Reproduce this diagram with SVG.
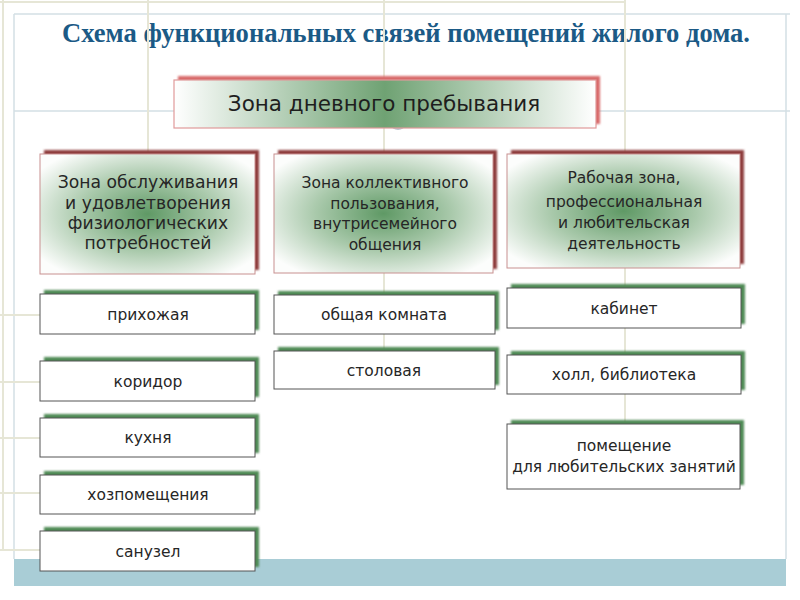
<svg xmlns="http://www.w3.org/2000/svg" width="800" height="600" viewBox="0 0 800 600">
<style>
.title{font-family:"Liberation Serif","Times New Roman",serif;font-weight:bold;font-size:28px;fill:#1b5a86}
.t{font-family:"DejaVu Sans",Verdana,sans-serif;font-size:15.5px;fill:#262626;text-anchor:middle}
.t1{font-family:"DejaVu Sans",Verdana,sans-serif;font-size:17.2px;fill:#262626;text-anchor:middle}
.tt{font-family:"DejaVu Sans",Verdana,sans-serif;font-size:21.5px;fill:#1e1e1e;text-anchor:middle}
.frame{stroke:#d3dfe4;stroke-width:1.5;fill:none}
.conn{stroke:#e6e6d6;stroke-width:2;fill:none}
.zone{fill:url(#zg);stroke:#c89090;stroke-width:1}
.zsh{fill:#8e3d3d;filter:url(#blur)}
.item{fill:#ffffff;stroke:#555555;stroke-width:1}
.ish{fill:#4f8a55;filter:url(#blur)}
</style>
<defs>
<filter id="blur" x="-10%" y="-30%" width="120%" height="160%"><feGaussianBlur stdDeviation="1.3"/></filter>
<radialGradient id="zg" cx="0.5" cy="0.5" r="0.62">
<stop offset="0" stop-color="#5f9965"/>
<stop offset="0.5" stop-color="#a9c9ab"/>
<stop offset="1" stop-color="#fcfdfc"/>
</radialGradient>
<linearGradient id="tg" x1="0" y1="0" x2="1" y2="0">
<stop offset="0" stop-color="#ffffff"/>
<stop offset="0.5" stop-color="#6fa273"/>
<stop offset="1" stop-color="#ffffff"/>
</linearGradient>
</defs>
<rect width="800" height="600" fill="#ffffff"/>
<g id="background">
<rect x="14" y="559" width="772" height="27" fill="#a9cdd6"/>
<line class="frame" x1="14" y1="14" x2="790" y2="14"/>
<line class="frame" x1="14" y1="111" x2="790" y2="111"/>
<line class="frame" x1="14" y1="14" x2="14" y2="559"/>
<line class="frame" x1="786" y1="14" x2="786" y2="559"/>
</g>
<text class="title" x="62" y="42" textLength="688" lengthAdjust="spacingAndGlyphs">Схема функциональных связей помещений жилого дома.</text>
<g id="connectors">
<line class="conn" x1="0" y1="2" x2="625" y2="2"/>
<line class="conn" x1="3" y1="0" x2="3" y2="550"/>
<line class="conn" x1="148" y1="0" x2="148" y2="153"/>
<line class="conn" x1="384" y1="0" x2="384" y2="351"/>
<line class="conn" x1="625" y1="0" x2="625" y2="424"/>
<line class="conn" x1="0" y1="315" x2="40" y2="315"/>
<line class="conn" x1="0" y1="382" x2="40" y2="382"/>
<line class="conn" x1="0" y1="438" x2="40" y2="438"/>
<line class="conn" x1="0" y1="493" x2="40" y2="493"/>
<line class="conn" x1="0" y1="550" x2="40" y2="550"/>
<ellipse cx="398" cy="125" rx="7" ry="5" fill="#b9c6cf"/>
</g>
<g id="top">
<rect x="178" y="76" width="422" height="48" fill="#d86a6a" filter="url(#blur)"/>
<rect x="174" y="80" width="422" height="48" fill="url(#tg)" stroke="#e09a9a" stroke-width="1.2"/>
<text class="tt" x="384" y="111">Зона дневного пребывания</text>
</g>
<g id="zone1">
<rect class="zsh" x="44" y="150" width="215" height="120"/>
<rect class="zone" x="40" y="154" width="215" height="120"/>
<text class="t1" x="148" y="188">Зона обслуживания</text>
<text class="t1" x="148" y="209">и удовлетворения</text>
<text class="t1" x="148" y="229">физиологических</text>
<text class="t1" x="148" y="249">потребностей</text>
</g>
<g id="zone2">
<rect class="zsh" x="278" y="150" width="219" height="119"/>
<rect class="zone" x="274" y="154" width="219" height="119"/>
<text class="t" x="385" y="188">Зона коллективного</text>
<text class="t" x="385" y="209">пользования,</text>
<text class="t" x="385" y="229">внутрисемейного</text>
<text class="t" x="385" y="250">общения</text>
</g>
<g id="zone3">
<rect class="zsh" x="511" y="150" width="233" height="114"/>
<rect class="zone" x="507" y="154" width="233" height="114"/>
<text class="t" x="624" y="183">Рабочая зона,</text>
<text class="t" x="624" y="207">профессиональная</text>
<text class="t" x="624" y="228">и любительская</text>
<text class="t" x="624" y="249">деятельность</text>
</g>
<g id="item-prihozhaya">
<rect class="ish" x="44" y="290" width="215" height="40"/>
<rect class="item" x="40" y="294" width="215" height="40"/>
<text class="t" x="148" y="320">прихожая</text>
</g>
<g id="item-koridor">
<rect class="ish" x="44" y="357" width="215" height="40"/>
<rect class="item" x="40" y="361" width="215" height="40"/>
<text class="t" x="148" y="387">коридор</text>
</g>
<g id="item-kuhnya">
<rect class="ish" x="44" y="414" width="215" height="39"/>
<rect class="item" x="40" y="418" width="215" height="39"/>
<text class="t" x="148" y="443">кухня</text>
</g>
<g id="item-hozpom">
<rect class="ish" x="44" y="471" width="215" height="39"/>
<rect class="item" x="40" y="475" width="215" height="39"/>
<text class="t" x="148" y="500">хозпомещения</text>
</g>
<g id="item-sanuzel">
<rect class="ish" x="44" y="527" width="215" height="40"/>
<rect class="item" x="40" y="531" width="215" height="40"/>
<text class="t" x="148" y="557">санузел</text>
</g>
<g id="item-obshaya">
<rect class="ish" x="278" y="291" width="221" height="39"/>
<rect class="item" x="274" y="295" width="221" height="39"/>
<text class="t" x="384" y="320">общая комната</text>
</g>
<g id="item-stolovaya">
<rect class="ish" x="278" y="347" width="221" height="38"/>
<rect class="item" x="274" y="351" width="221" height="38"/>
<text class="t" x="384" y="376">столовая</text>
</g>
<g id="item-kabinet">
<rect class="ish" x="511" y="284" width="234" height="40"/>
<rect class="item" x="507" y="288" width="234" height="40"/>
<text class="t" x="624" y="314">кабинет</text>
</g>
<g id="item-holl">
<rect class="ish" x="511" y="351" width="234" height="39"/>
<rect class="item" x="507" y="355" width="234" height="39"/>
<text class="t" x="624" y="380">холл, библиотека</text>
</g>
<g id="item-pomeshenie">
<rect class="ish" x="511" y="420" width="233" height="65"/>
<rect class="item" x="507" y="424" width="233" height="65"/>
<text class="t" x="624" y="451">помещение</text>
<text class="t" x="624" y="472">для любительских занятий</text>
</g>
</svg>
